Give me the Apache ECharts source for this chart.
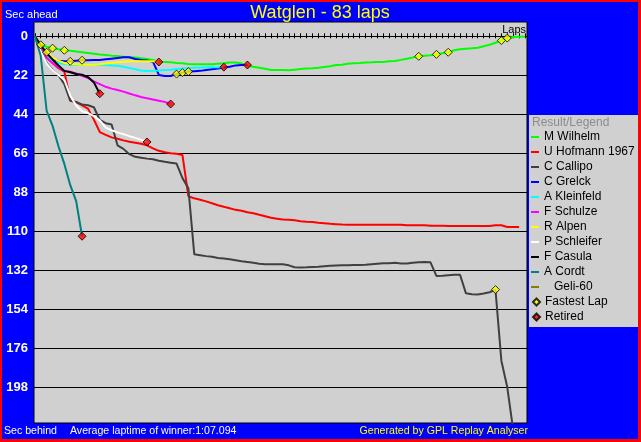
<!DOCTYPE html>
<html><head><meta charset="utf-8">
<script src="https://cdn.jsdelivr.net/npm/echarts@6/dist/echarts.min.js"></script>
<style>
html,body{margin:0;padding:0;background:#FF0000;width:641px;height:442px;overflow:hidden}
#bg{position:absolute;left:2px;top:2px;width:636px;height:437px;background:#0000FF}
#chart{position:absolute;left:0;top:0;width:641px;height:442px}
</style></head><body><div id="bg"></div><div id="chart"></div>
<script>
// ---- data (seconds behind per lap, index = lap number) ----
const driverNames = ['M Wilhelm','U Hofmann 1967','C Callipo','C Grelck','A Kleinfeld','F Schulze','R Alpen','P Schleifer','F Casula','A Cordt','   Geli-60'];
const wilhelm = [0,4.8,5.9,6.7,7.3,7.9,8.2,8.6,9.0,9.4,9.8,10.2,10.5,10.9,11.1,11.6,11.8,12.0,12.4,12.8,13.3,14.3,14.5,14.7,15.0,15.2,15.6,15.8,15.8,15.8,15.8,15.5,15.2,14.8,14.8,15.4,16.6,17.2,17.7,18.3,19.0,19.0,19.0,19.2,18.8,18.4,18.2,18.0,17.7,17.3,16.9,16.2,16.0,15.5,15.2,15.1,14.8,14.7,14.5,14.5,14.1,13.9,13.3,12.7,12.0,11.3,10.9,10.7,10.2,9.6,9.0,7.9,7.3,7.0,6.8,6.5,5.6,4.8,3.6,2.4,1.0,0.4,0.3,0.2];
const hofmann = [0,7,12,15,18,20,36,37,39,40.8,47,54,55.6,57,57.8,58.7,59.5,60,60.6,61.5,63.2,64.6,65.4,66,66.3,67,90.2,91.4,92.2,93.1,94.2,95.3,96.2,97,97.9,98.4,99.3,99.8,100.7,101.5,102.4,102.9,103.4,103.5,103.8,104.3,104.6,104.7,105.2,105.5,105.8,106,106.2,106.3,106.3,106.3,106.3,106.3,106.3,106.3,106.3,106.3,106.3,106.6,106.6,106.6,106.6,106.8,106.8,106.9,107,107,107,107,107,107,107,107,106.6,106.6,107.6,107.6,107.6];
const callipo = [0,8,15,19,22,27,36.4,37.2,38.4,38.9,40,47.2,49,49.8,61.5,63.5,66.5,68,68.5,69,69.4,70.2,70.8,71.3,71.8,80,85.7,123,123.5,124,124.4,125,125.4,125.8,126.3,126.9,127.3,127.8,128.3,128.6,128.6,128.6,128.6,129.2,130.3,130.4,130.3,130.1,130,129.7,129.4,129.3,129.2,129.2,129,129,128.9,128.6,128.3,128,128,127.8,128.2,128.2,127.8,127.5,127.3,127.5,135.2,135.1,134.8,134.5,134.5,145,145.5,145.7,145.1,144.4,142.9,183,198,222];
const grelck = [0,6,10.3,13,13.8,14.1,14.1,13.8,13.5,13.5,13.4,13.4,13.0,12.6,12.2,11.8,11.8,12.8,13.3,13.7,14.3,21.8,22.4,22.4,21.3,20.5,19.9,19.7,19.5,19.0,18.6,18.2,17.6,17.2,16.4,16.2,16.2];
const kleinfeld = [0,6,11,14,15,15.6,15.9,16,16,16.1,16.1,16.1,16.2,16.4,16.6,17.2,17.9,18.6,19.3,19.6,19.5,19.3,19.0,18.8,18.5,18.2,18.0,17.8,17.6,17.5,17.4,17.4,17.4];
const schulze = [0,6,12,15,17.5,19.5,20,21,22.3,23.5,25.5,27,28.5,29.5,30.3,31.2,32.3,33.3,34.2,35,35.6,36.3,37,38.2];
const alpen = [0,5,9,12,13.8,15,15.6,15.8,16,16,16,15.8,15.4,15,14.6,14.3,14.1,14.1,14.1,14.1,14.1,14.5];
const schleifer = [0,8.6,15.5,19.2,21.8,24.5,33.5,39,42.3,43.3,45,47.4,51.5,53,54.2,55.2,56.3,57.3,58.4,59.6];
const casula = [0,5,9.5,13,16.5,19.5,20.3,21.3,21.7,23,26,32.4];
const cordt = [0,11,42,50.5,62,72,84,93,112.8];
const geli = [];
const fastLaps = [1,3,5,65,68,70,79,80,2,6,8,24,25,26,78];
const fastSecs = [4.8,6.7,7.9,11.3,10.2,9.0,2.4,1.0,9.0,14.1,13.5,21.3,20.5,19.9,142.9];
const retLaps = [8,11,19,21,23,32,36];
const retSecs = [112.8,32.4,59.6,14.5,38.2,17.4,16.2];
const yTicks = [0,22,44,66,88,110,132,154,176,198];
const totalLaps = 83;

// ---- styling ----
const colors = ['#00FF00','#FF0000','#404040','#0000FF','#00FFFF','#FF00FF','#FFFF00','#FFFFFF','#000000','#008080','#808000'];
const seriesVals = [wilhelm,hofmann,callipo,grelck,kleinfeld,schulze,alpen,schleifer,casula,cordt,geli];
const FONT = '"Liberation Sans", Arial, sans-serif';
const lapTicks = [];
for (let i = 0; i <= totalLaps; i++) lapTicks.push(i);

const series = driverNames.map((n,i)=>({
  type:'line', name:n, data: seriesVals[i].map((v,k)=>[k,v]),
  symbol:'none', showSymbol:false, animation:false,
  lineStyle:{color:colors[i], width:2}, itemStyle:{color:colors[i]}, z:2
}));
series.push({type:'scatter', name:'Fastest Lap', data: fastLaps.map((l,i)=>[l,fastSecs[i]]),
  symbol:'diamond', symbolSize:8, animation:false,
  itemStyle:{color:'#FFFF00', borderColor:'#000', borderWidth:1}, z:5});
series.push({type:'scatter', name:'Retired', data: retLaps.map((l,i)=>[l,retSecs[i]]),
  symbol:'diamond', symbolSize:8, animation:false,
  itemStyle:{color:'#FF0000', borderColor:'#000', borderWidth:1}, z:5});

const chart = echarts.init(document.getElementById('chart'), null, {renderer:'canvas', width:641, height:442});
chart.setOption({
  animation:false,
  grid:{left:34, top:22, width:493, height:401, show:true, backgroundColor:'#D0D0D0', borderColor:'#000', borderWidth:1},
  xAxis:[
    {type:'value', min:-0.14, max:83.34, position:'bottom',
     axisLine:{show:true, onZero:true, onZeroAxisIndex:0, lineStyle:{color:'#000', width:1}},
     axisTick:{show:true, length:2, customValues:lapTicks, lineStyle:{color:'#000', width:1}},
     axisLabel:{show:false}, splitLine:{show:false}},
    {type:'value', min:-0.14, max:83.34, position:'bottom',
     axisLine:{show:true, onZero:true, onZeroAxisIndex:0, lineStyle:{color:'#000', width:1}},
     axisTick:{show:true, inside:true, length:3, customValues:lapTicks, lineStyle:{color:'#000', width:1}},
     axisLabel:{show:false}, splitLine:{show:false}}
  ],
  yAxis:{type:'value', inverse:true, min:-8.07, max:218.14,
    axisLine:{show:false}, axisTick:{show:false, customValues:yTicks},
    axisLabel:{customValues:yTicks, color:'#FFFFFF', fontWeight:'bold', fontSize:13, fontFamily:FONT, margin:6},
    splitLine:{show:true, lineStyle:{color:'#000', width:1}}},
  legend:[
    {data:driverNames, orient:'vertical', left:531, top:131, padding:0, itemGap:3,
     itemWidth:8, itemHeight:2, icon:'rect', selectedMode:false,
     textStyle:{color:'#000', fontSize:12, fontFamily:FONT}},
    {data:['Fastest Lap','Retired'], orient:'vertical', left:532, top:296, padding:0, itemGap:3,
     itemWidth:7, itemHeight:7, selectedMode:false,
     textStyle:{color:'#000', fontSize:12, fontFamily:FONT}}
  ],
  graphic:[
    {type:'rect', shape:{x:529, y:115, width:109, height:212}, style:{fill:'#D0D0D0'}, z:0},
    {type:'text', x:532, y:123, style:{text:'Result/Legend', fill:'#8C8C8C', font:'12px '+FONT, textVerticalAlign:'middle'}, z:1},
    {type:'text', x:320, y:13, style:{text:'Watglen - 83 laps', fill:'#FFFF00', font:'18px '+FONT, textAlign:'center', textVerticalAlign:'middle'}, z:1},
    {type:'text', x:5, y:15, style:{text:'Sec ahead', fill:'#FFFFFF', font:'11px '+FONT, textVerticalAlign:'middle'}, z:1},
    {type:'text', x:526, y:30, style:{text:'Laps', fill:'#000', font:'11px '+FONT, textAlign:'right', textVerticalAlign:'middle'}, z:10},
    {type:'text', x:4, y:431, style:{text:'Sec behind', fill:'#FFFFFF', font:'10.6px '+FONT, textVerticalAlign:'middle'}, z:1},
    {type:'text', x:70, y:431, style:{text:'Average laptime of winner:1:07.094', fill:'#FFFFFF', font:'10.6px '+FONT, textVerticalAlign:'middle'}, z:1},
    {type:'text', x:528, y:431, style:{text:'Generated by GPL Replay Analyser', fill:'#FFFF00', font:'10.6px '+FONT, textAlign:'right', textVerticalAlign:'middle'}, z:1}
  ],
  series:series
});
</script></body></html>
